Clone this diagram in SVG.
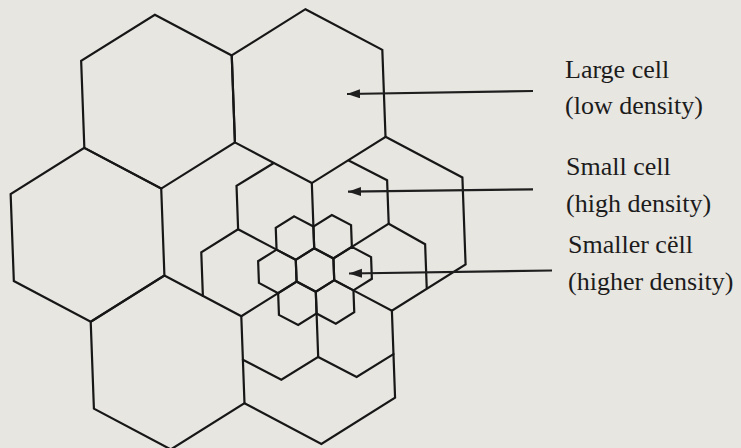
<svg xmlns="http://www.w3.org/2000/svg" xmlns:xlink="http://www.w3.org/1999/xlink" width="741" height="448" viewBox="0 0 741 448">
  <style>
    .ln { fill: none; stroke: #171717; stroke-width: 2.2; stroke-linejoin: miter; stroke-linecap: round; }
    .arrow { fill: none; stroke: #1f1f1f; stroke-width: 2.2; }
    .lbl { font-family: "Liberation Serif", "Times New Roman", serif; font-size: 26px; fill: #1c1c1c; }
  </style>
  <defs>
    <polygon id="hexL" points="0,-87 75.34,-43.5 75.34,43.5 0,87 -75.34,43.5 -75.34,-43.5"/>
    <polygon id="hexT" points="0,-21.75 18.84,-10.875 18.84,10.875 0,21.75 -18.84,10.875 -18.84,-10.875"/>
    <marker id="head" markerUnits="userSpaceOnUse" markerWidth="14" markerHeight="10" refX="13" refY="4.5" orient="auto">
      <path d="M0,0 L13,4.5 L0,9 Z" fill="#1f1f1f"/>
    </marker>
  </defs>
  <rect width="741" height="448" fill="#e8e6e1"/>

  <g id="cells" transform="rotate(-2.1 315 270)">
    <g id="large-cells">
      <use id="large-A" xlink:href="#hexL" href="#hexL" class="ln" x="164.31" y="96"/>
      <use id="large-B" xlink:href="#hexL" href="#hexL" class="ln" x="315" y="96"/>
      <use id="large-D" xlink:href="#hexL" href="#hexL" class="ln" x="88.97" y="226.5"/>
      <use id="large-E" xlink:href="#hexL" href="#hexL" class="ln" x="164.31" y="357"/>
      <path id="large-C" class="ln" d="M390.34,139.5 L465.69,183 L465.69,270 L390.34,313.5 L352.67,291.75 M315,183 L315,226.5"/>
      <path id="large-F" class="ln" d="M390.34,313.5 L390.34,400.5 L315,444 L239.66,400.5 M277.33,291.75 L239.66,313.5"/>
    </g>
    <g id="small-cells">
      <path id="small-1" class="ln" d="M277.33,161.75 L239.66,183 L239.66,226.5 L277.33,248.25"/>
      <path id="small-2" class="ln" d="M352.67,161.75 L390.34,183 L390.34,226.5 L352.67,248.25"/>
      <path id="small-3" class="ln" d="M239.66,226.5 L202,248.25 L202,291.75"/>
      <path id="small-4" class="ln" d="M390.34,226.5 L426,248.25 L426,291.75"/>
      <path id="small-5" class="ln" d="M315,313.5 L315,357 L277.33,378.5 L239.66,357"/>
      <path id="small-6" class="ln" d="M315,357 L352.67,378.5 L390.34,357"/>
    </g>
    <g id="smaller-cells">
      <use id="smaller-c" xlink:href="#hexT" href="#hexT" class="ln" x="315" y="270"/>
      <use id="smaller-l" xlink:href="#hexT" href="#hexT" class="ln" x="277.33" y="270"/>
      <use id="smaller-r" xlink:href="#hexT" href="#hexT" class="ln" x="352.67" y="270"/>
      <use id="smaller-tl" xlink:href="#hexT" href="#hexT" class="ln" x="296.16" y="237.375"/>
      <use id="smaller-tr" xlink:href="#hexT" href="#hexT" class="ln" x="333.84" y="237.375"/>
      <use id="smaller-bl" xlink:href="#hexT" href="#hexT" class="ln" x="296.16" y="302.625"/>
      <use id="smaller-br" xlink:href="#hexT" href="#hexT" class="ln" x="333.84" y="302.625"/>
    </g>
  </g>

  <g id="connectors">
    <line class="arrow" x1="533" y1="91" x2="347" y2="94" marker-end="url(#head)"/>
    <line class="arrow" x1="533" y1="189.3" x2="348" y2="191.7" marker-end="url(#head)"/>
    <line class="arrow" x1="552" y1="270.5" x2="349" y2="273.5" marker-end="url(#head)"/>
  </g>

  <g id="label-large">
    <text class="lbl" x="565" y="78">Large cell</text>
    <text class="lbl" x="565" y="114">(low density)</text>
  </g>
  <g id="label-small">
    <text class="lbl" x="566" y="175">Small cell</text>
    <text class="lbl" x="566" y="212">(high density)</text>
  </g>
  <g id="label-smaller">
    <text class="lbl" x="568" y="253">Smaller cëll</text>
    <text class="lbl" x="568" y="289.5">(higher density)</text>
  </g>
</svg>
